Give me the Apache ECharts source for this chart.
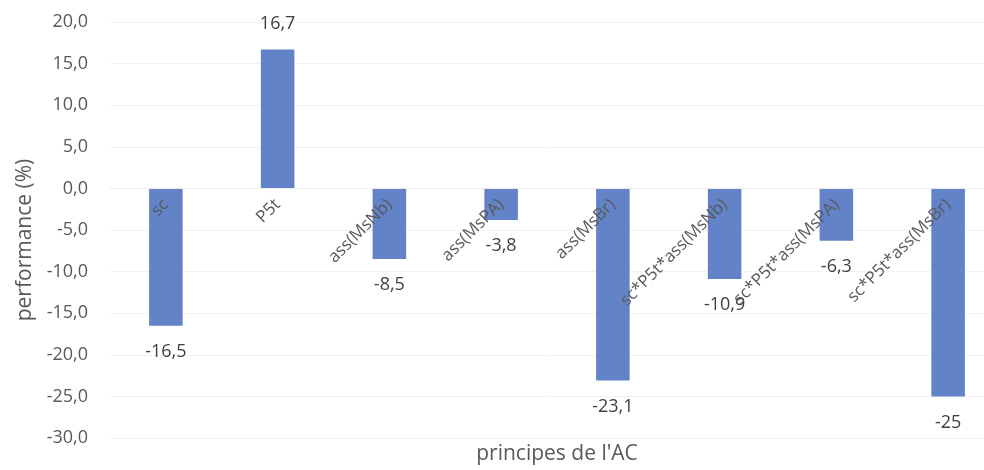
<!DOCTYPE html>
<html>
<head>
<meta charset="utf-8">
<script src="https://cdn.jsdelivr.net/npm/echarts@6/dist/echarts.min.js"></script>
<style>
  html, body { margin: 0; padding: 0; background: #fff; }
  #chart { width: 984px; height: 470px; }
</style>
</head>
<body>
<div id="chart"></div>
<script>
// principes de l'AC
const categories = ['sc', 'P5t', 'ass(MsNb)', 'ass(MsPA)', 'ass(MsBr)',
  'sc*P5t*ass(MsNb)', 'sc*P5t*ass(MsPA)', 'sc*P5t*ass(MsBr)']
const performance = [-16.5, 16.7, -8.5, -3.8, -23.1, -10.9, -6.3, -25]
// labels as printed on the chart (last one has no decimal)
const valueLabels = ['-16,5', '16,7', '-8,5', '-3,8', '-23,1', '-10,9', '-6,3', '-25']

const FONT = 'Open Sans'
const chart = echarts.init(document.getElementById('chart'))

const barData = performance.map((v, i) => ({
  value: v,
  label: {
    position: v >= 0 ? 'top' : 'bottom',
    formatter: valueLabels[i]
  }
}))

// grid spans 22..438 px for -30..20, so the zero line sits 250 px above the bottom
chart.setOption({
  animation: false,
  textStyle: { fontFamily: FONT },
  grid: {
    left: 110,
    right: -20,
    top: 22,
    bottom: 32,
    containLabel: false,
    outerBoundsMode: 'none'
  },
  xAxis: {
    type: 'category',
    data: categories,
    z: 5,
    offset: -250,
    name: "principes de l'AC",
    nameLocation: 'middle',
    nameGap: 256,
    nameTextStyle: { color: '#595959', fontSize: 21, fontFamily: FONT },
    axisLine: { show: true, onZero: false, lineStyle: { color: '#ececec' } },
    axisTick: { show: false },
    axisLabel: {
      rotate: 45,
      margin: 14,
      color: '#595959',
      fontSize: 17,
      fontFamily: FONT,
      interval: 0
    },
    splitLine: { show: false }
  },
  yAxis: {
    type: 'value',
    min: -30,
    max: 20,
    interval: 5,
    name: 'performance (%)',
    nameLocation: 'middle',
    nameGap: 74,
    nameTextStyle: { color: '#595959', fontSize: 21, fontFamily: FONT, padding: [0, 20, 0, 0] },
    axisLine: { show: false },
    axisTick: { show: false },
    axisLabel: {
      margin: 22,
      color: '#595959',
      fontSize: 18,
      fontFamily: FONT,
      formatter: v => v.toFixed(1).replace('.', ',')
    },
    splitLine: { lineStyle: { color: '#f2f2f2' } }
  },
  series: [{
    type: 'bar',
    data: barData,
    barWidth: '30%',
    itemStyle: { color: '#6283c8' },
    label: {
      show: true,
      distance: 17,
      color: '#404040',
      fontSize: 18,
      fontFamily: FONT
    }
  }]
})
</script>
</body>
</html>
